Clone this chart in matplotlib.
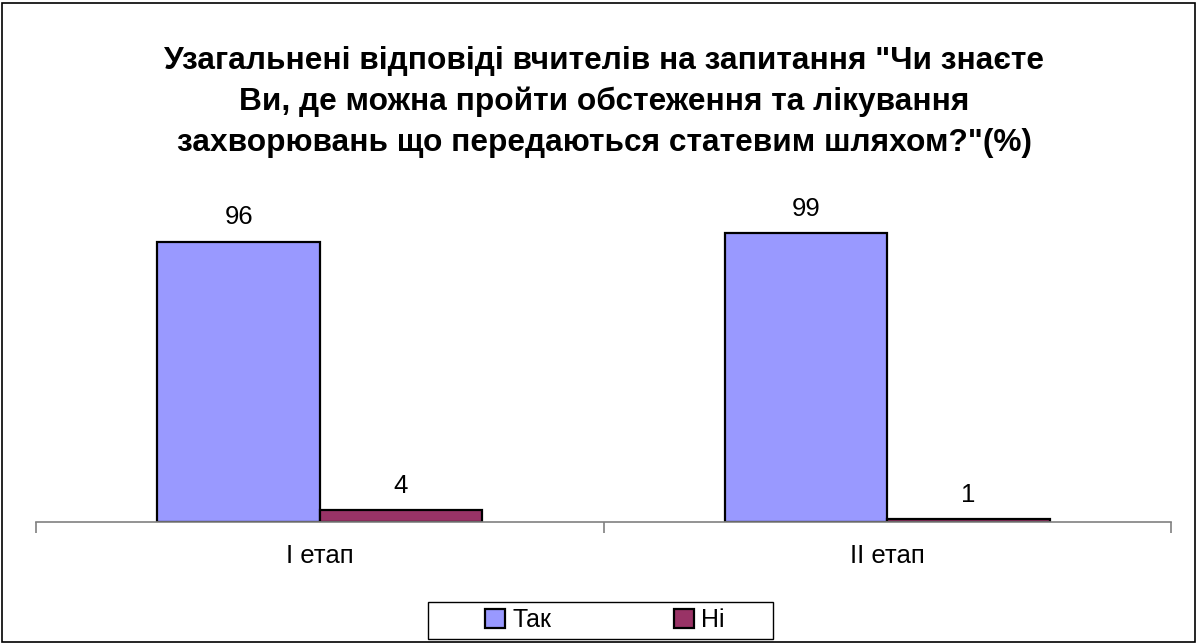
import matplotlib.pyplot as plt
import numpy as np
from matplotlib.patches import Patch, Rectangle

plt.rcParams['font.family'] = ['Liberation Sans', 'DejaVu Sans']

# data
categories = ['I етап', 'II етап']
series_names = ['Так', 'Ні']
tak = [96, 99]
ni = [4, 1]
colors = ['#9999FF', '#993366']

title = ('Узагальнені відповіді вчителів на запитання "Чи знаєте\n'
         'Ви, де можна пройти обстеження та лікування\n'
         'захворювань що передаються статевим шляхом?"(%)')

fig = plt.figure(figsize=(11.97, 6.43), dpi=100)
fig.patches.append(Rectangle((0.002, 0.002), 0.996, 0.994, transform=fig.transFigure,
                             fill=False, edgecolor='black', linewidth=1.2))

ax = fig.add_axes([0.0301, 0.1882, 0.9482, 0.4536])

x = np.arange(len(categories))
w = 0.286
b1 = ax.bar(x - w / 2, tak, w, color=colors[0], edgecolor='black', linewidth=1.6)
b2 = ax.bar(x + w / 2, ni, w, color=colors[1], edgecolor='black', linewidth=1.6)

for bars, vals in [(b1, tak), (b2, ni)]:
    for r, v in zip(bars, vals):
        ax.text(r.get_x() + r.get_width() / 2, v + 6.0, str(v), ha='center', va='baseline',
                fontsize=18.5, clip_on=False)

ax.set_xlim(-0.5, 1.5)
ax.set_ylim(0, 100)
for s in ['top', 'right', 'left']:
    ax.spines[s].set_visible(False)
ax.spines['bottom'].set_color('#808080')
ax.spines['bottom'].set_linewidth(1.2)
ax.set_yticks([])
ax.set_xticks([-0.5, 0.5, 1.5])
ax.set_xticklabels([])
ax.tick_params(axis='x', which='major', length=8, color='#808080', width=1.2)
ax.set_xticks(x, minor=True)
ax.set_xticklabels(categories, minor=True, fontsize=18.5)
ax.tick_params(axis='x', which='minor', length=0, pad=16)

fig.text(0.5046, 0.8415, title, ha='center', va='center', fontsize=22.8,
         fontweight='bold', linespacing=1.45)

# legend box
fig.patches.append(Rectangle((0.3576, 0.0062), 0.2882, 0.0575, transform=fig.transFigure,
                             fill=False, edgecolor='black', linewidth=1.0))
handles = [Patch(facecolor=c, edgecolor='black', linewidth=1.6) for c in colors]
leg = fig.legend(handles, series_names, loc='center', bbox_to_anchor=(0.5054, 0.0358),
                 ncol=2, fontsize=18, frameon=False,
                 handlelength=0.8, handleheight=0.8, handletextpad=0.3,
                 columnspacing=4.9, borderpad=0.2)

fig.savefig('out.png', dpi=100)
